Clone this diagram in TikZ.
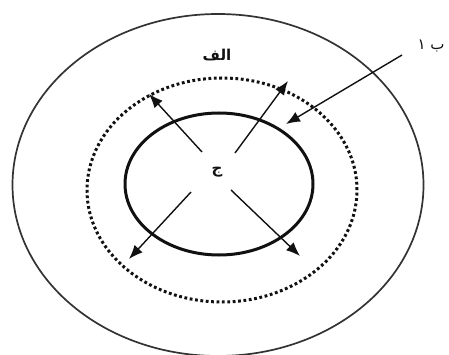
\documentclass[tikz,border=0pt]{standalone}
\usepackage{fontspec}
\usetikzlibrary{shapes.geometric,arrows.meta}
\newfontfamily\arabicfont[Script=Arabic]{DejaVu Sans}
\TeXXeTstate=1
\definecolor{RingGrey}{HTML}{333333}
\definecolor{InkBlack}{HTML}{111111}

\tikzset{
  ring/.style 2 args={ellipse, draw, inner sep=0pt, minimum width=#1, minimum height=#2},
  spoke/.style={draw=InkBlack, line width=1.4pt, -{Latex[length=14pt,width=11pt]}},
  arlabel/.style={text=InkBlack, inner sep=1pt, font=\arabicfont\fontsize{15}{17}\selectfont},
  boldlabel/.style={arlabel, font=\arabicfont\bfseries\fontsize{15}{17}\selectfont}
}

\begin{document}
\begin{tikzpicture}[x=1pt,y=-1pt]
  \useasboundingbox (0,0) rectangle (449,355);
  % rings
  \node[ring={411pt}{342pt}, draw=RingGrey, line width=1.7pt] (outer) at (218,185) {};
  \node[ring={270pt}{224pt}, draw=InkBlack, line width=3pt,
        dash pattern=on 2.8pt off 2.6pt] (middle) at (222,190) {};
  \node[ring={188pt}{142pt}, draw=InkBlack, line width=3pt] (inner) at (219,184) {};
  % labels
  \node[boldlabel] (alef) at (217,55) {\beginR الف\endR};
  \node[boldlabel] (jim) at (217,172) {\beginR ج\endR};
  \node[arlabel] (ba) at (431,46) {\beginR ب ١\endR};
  % spokes from the centre
  \coordinate (ul) at (202,152);
  \coordinate (ur) at (235,153);
  \coordinate (ll) at (191,192);
  \coordinate (lr) at (231,190);
  \coordinate (ul-tip) at (149,94);
  \coordinate (ur-tip) at (288,81);
  \coordinate (ll-tip) at (129,259);
  \coordinate (lr-tip) at (300,256);
  \draw[spoke] (ul) -- (ul-tip);
  \draw[spoke] (ur) -- (ur-tip);
  \draw[spoke] (ll) -- (ll-tip);
  \draw[spoke] (lr) -- (lr-tip);
  % pointer to the inner ring
  \coordinate (ba-end) at (402,55);
  \coordinate (ba-tip) at (286,124);
  \draw[spoke] (ba-end) -- (ba-tip);
\end{tikzpicture}
\end{document}
